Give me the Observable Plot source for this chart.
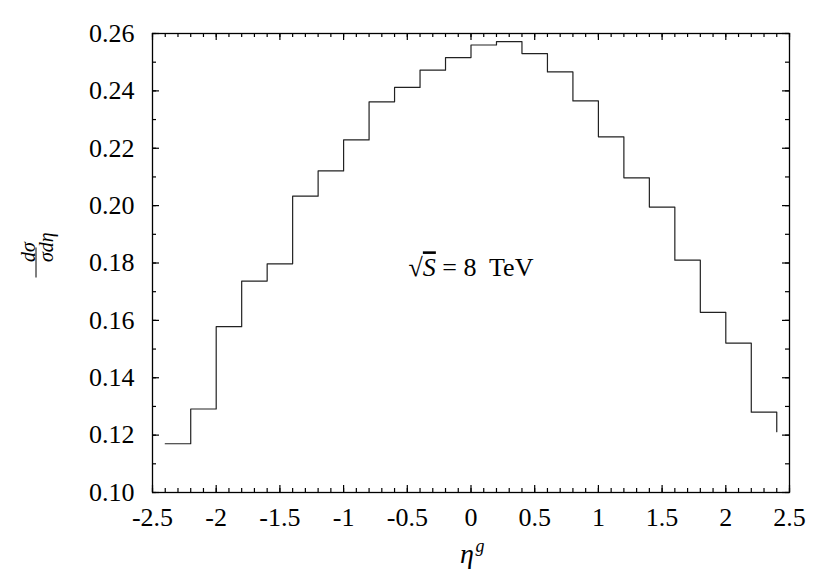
<!DOCTYPE html>
<html>
<head>
<meta charset="utf-8">
<script src="https://cdn.jsdelivr.net/npm/d3@7"></script>
<script src="https://cdn.jsdelivr.net/npm/@observablehq/plot@0.6"></script>
<style>
  html, body { margin: 0; padding: 0; background: #fff; }
  svg { display: block; }
</style>
</head>
<body>
<div id="chart"></div>
<script>
// Bin left edges (eta) and histogram values; the final point closes the last step
const eta = [-2.4, -2.2, -2.0, -1.8, -1.6, -1.4, -1.2, -1.0, -0.8, -0.6, -0.4, -0.2,
             0.0, 0.2, 0.4, 0.6, 0.8, 1.0, 1.2, 1.4, 1.6, 1.8, 2.0, 2.2, 2.4];
const dsig = [0.1170, 0.1291, 0.1578, 0.1737, 0.1797, 0.2033, 0.2121, 0.2229, 0.2362, 0.2412,
              0.2472, 0.2516, 0.2560, 0.2572, 0.2530, 0.2466, 0.2365, 0.2240, 0.2097, 0.1995,
              0.1810, 0.1628, 0.1521, 0.1280, 0.1212];

// Axis ticks
const xMajor = [-2.5, -2, -1.5, -1, -0.5, 0, 0.5, 1, 1.5, 2, 2.5];
const xMinor = d3.range(-25, 26).map(i => i / 10);
const yMajor = [0.10, 0.12, 0.14, 0.16, 0.18, 0.20, 0.22, 0.24, 0.26];
const yMinor = d3.range(10, 27).map(i => i / 100);

// Annotation
const annotX = [0];
const annotY = [0.18];
const annotText = ["√S = 8 TeV"];

const FONT = "Liberation Serif";
const W = 830, H = 581;
const mL = 152, mR = 41, mT = 33, mB = 89;
const pw = W - mL - mR, ph = H - mT - mB;
const majLen = 7, minLen = 4;

const data = eta.map((x, i) => ({x, y: dsig[i]}));

const plot = Plot.plot({
  width: W, height: H,
  marginLeft: mL, marginRight: mR, marginTop: mT, marginBottom: mB,
  x: {domain: [-2.5, 2.5]},
  y: {domain: [0.10, 0.26]},
  style: {background: "#fff", color: "#000"},
  marks: [
    Plot.line(data, {x: "x", y: "y", curve: "step-after", stroke: "#222", strokeWidth: 1.2}),
    // inward ticks on four sides
    Plot.tickY(yMajor, {y: d => d, insetRight: pw - majLen, stroke: "#000", strokeWidth: 1.2}),
    Plot.tickY(yMinor, {y: d => d, insetRight: pw - minLen, stroke: "#000", strokeWidth: 1.2}),
    Plot.tickY(yMajor, {y: d => d, insetLeft: pw - majLen, stroke: "#000", strokeWidth: 1.2}),
    Plot.tickY(yMinor, {y: d => d, insetLeft: pw - minLen, stroke: "#000", strokeWidth: 1.2}),
    Plot.tickX(xMajor, {x: d => d, insetTop: ph - majLen, stroke: "#000", strokeWidth: 1.2}),
    Plot.tickX(xMinor, {x: d => d, insetTop: ph - minLen, stroke: "#000", strokeWidth: 1.2}),
    Plot.tickX(xMajor, {x: d => d, insetBottom: ph - majLen, stroke: "#000", strokeWidth: 1.2}),
    Plot.tickX(xMinor, {x: d => d, insetBottom: ph - minLen, stroke: "#000", strokeWidth: 1.2}),
    Plot.frame({stroke: "#000", strokeWidth: 1.3}),
    Plot.axisX({ticks: xMajor, tickSize: 0, tickPadding: 15, tickFormat: d => String(d), label: null, fontSize: 26}),
    Plot.axisY({ticks: yMajor, tickSize: 0, tickPadding: 18, tickFormat: d3.format(".2f"), label: null, fontSize: 26}),
    Plot.text(annotText, {x: (d, i) => annotX[i], y: (d, i) => annotY[i], text: d => d, fontSize: 26, dy: 5}),
    // x label eta^g
    Plot.text(["η"], {frameAnchor: "bottom", dy: 70, text: d => d, fontSize: 28, fontStyle: "italic", dx: -4}),
    Plot.text(["g"], {frameAnchor: "bottom", dy: 59, text: d => d, fontSize: 18, fontStyle: "italic", dx: 9}),
    // y label fraction
    Plot.text(["dσ"], {frameAnchor: "left", dx: -124, dy: -1, rotate: -90, text: d => d, fontSize: 20, fontStyle: "italic"}),
    Plot.text(["σdη"], {frameAnchor: "left", dx: -106, dy: -1, rotate: -90, text: d => d, fontSize: 20, fontStyle: "italic"})
  ]
});

// Build the radical/italic S in the annotation text
d3.select(plot).selectAll("text").each(function() {
  if (this.textContent === "√S = 8 TeV") {
    const t = d3.select(this);
    t.text(null);
    t.append("tspan").text("√");
    t.append("tspan").attr("font-style", "italic").style("text-decoration", "overline").text("S");
    t.append("tspan").text(" = 8  TeV").style("white-space", "pre");
  }
});
// force the serif face on every text node (inline !important beats any stylesheet)
plot.style.setProperty("font-family", FONT, "important");
d3.select(plot).selectAll("g, text, tspan").each(function() {
  this.style.setProperty("font-family", FONT, "important");
});
// fraction bar for the y label
const fy = mT + ph / 2;
d3.select(plot).append("line")
  .attr("x1", 36).attr("x2", 36)
  .attr("y1", fy - 15).attr("y2", fy + 15)
  .attr("stroke", "#000").attr("stroke-width", 1);

document.getElementById("chart").appendChild(plot);
</script>
</body>
</html>
